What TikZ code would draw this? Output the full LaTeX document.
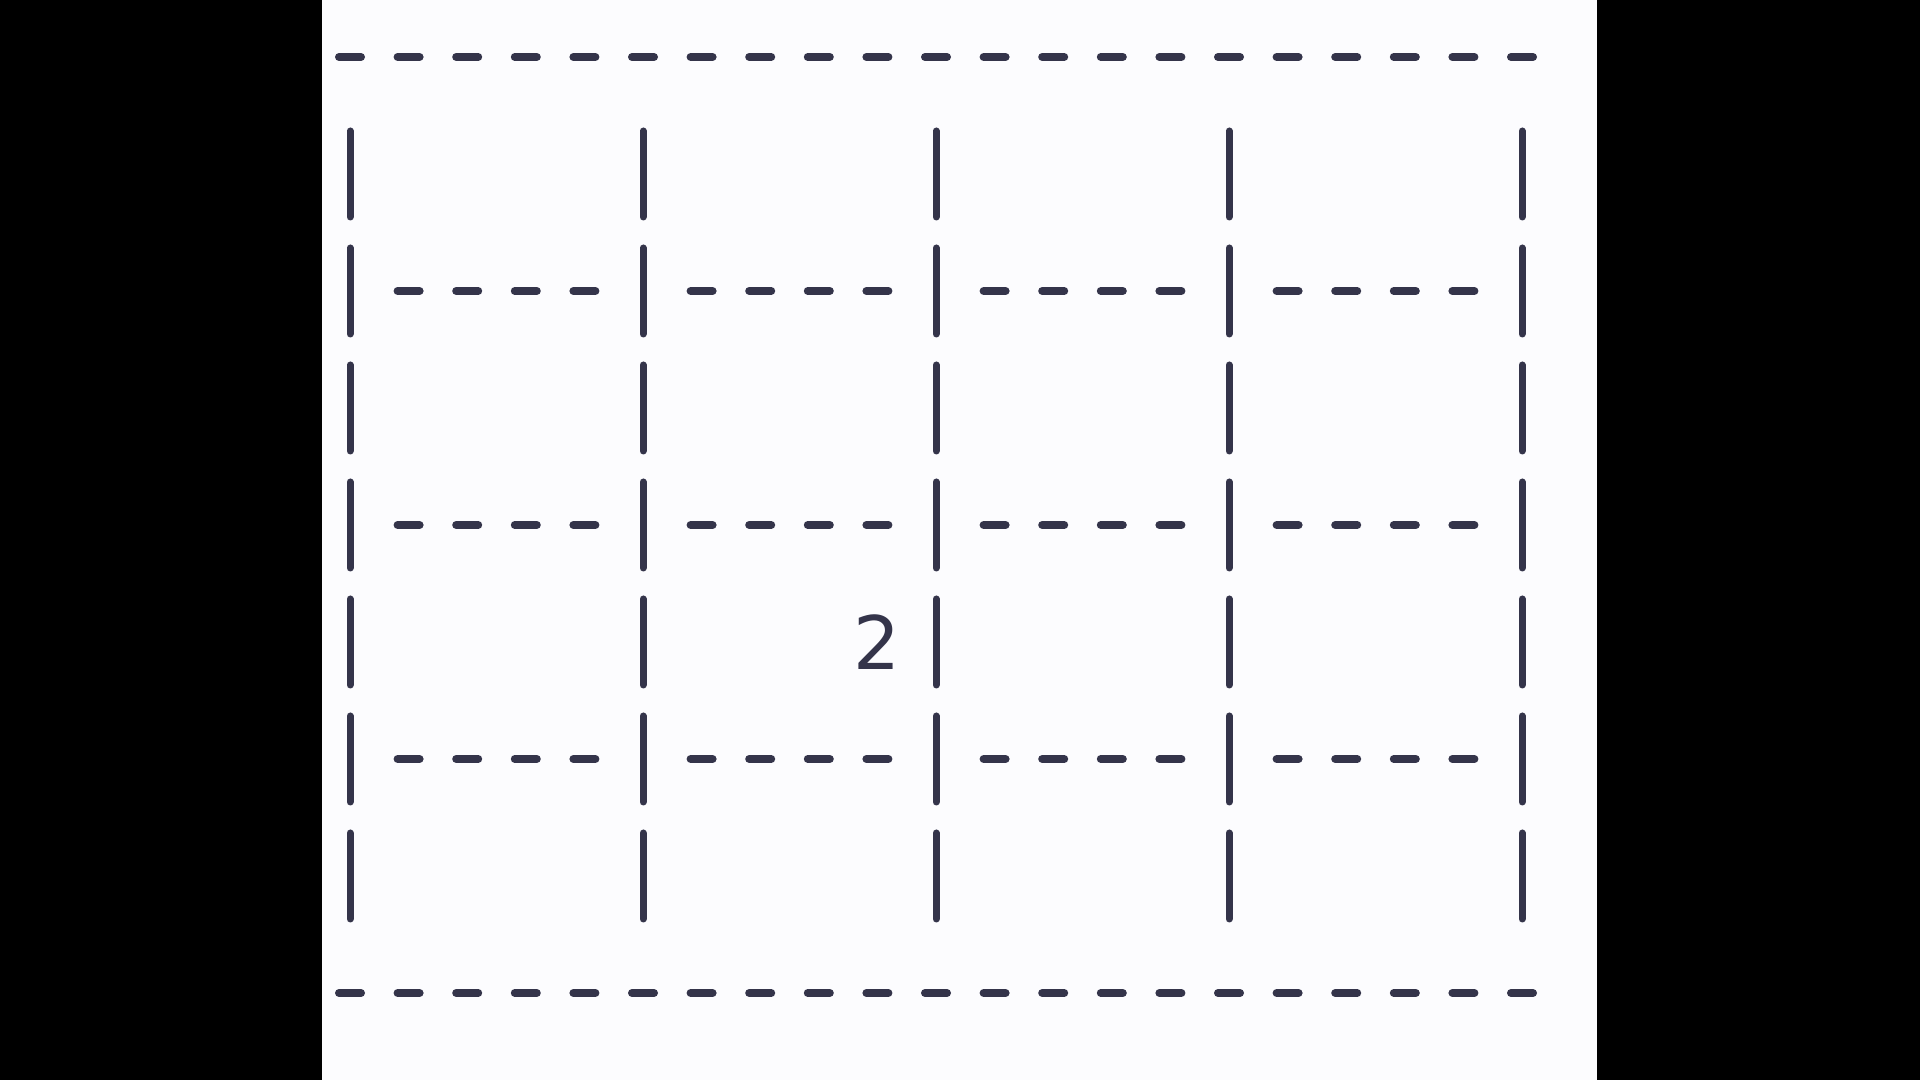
\documentclass[tikz,border=0pt]{standalone}
\usepackage{fontspec}
\usepackage{tikz}
\usetikzlibrary{positioning}
\newfontfamily\digitfont{DejaVu Sans}
\definecolor{tinta}{RGB}{52, 52, 74}
\definecolor{papel}{RGB}{252, 252, 254}
\tikzset{
    marco/.style={fill=black},
    hoja/.style={fill=papel},
    raya/.style={tinta, line width=0.08cm, line cap=round},
    barra/.style={tinta, line width=0.07cm, line cap=round},
    cifra/.style={text=tinta, font=\digitfont\fontsize{21}{25}\selectfont, inner sep=0pt},
}

\begin{document}
\begin{tikzpicture}
        \useasboundingbox (0,0) rectangle (19.2,10.8);
        \fill[marco] (0,0) rectangle (19.2,10.8);
        \fill[hoja] (3.22,0) rectangle (15.97,10.8);

        % top and bottom rows of dashes
        \foreach \j in {0,...,20}{
            \draw[raya] ({3.50+0.586*\j-0.11},10.23) -- ++(0.22,0);
            \draw[raya] ({3.50+0.586*\j-0.11},0.87) -- ++(0.22,0);
        }

        % bars
        \foreach \k in {1,...,7}{
            \foreach \c in {0,...,4}{
                \draw[barra] ({3.50+2.93*\c},{10.23-1.17*\k+0.43}) -- ++(0,-0.86);
            }
        }

        % dashes between the bars
        \foreach \k in {2,4,6}{
            \foreach \c in {0,...,3}{
                \foreach \i in {1,...,4}{
                    \draw[raya] ({3.50+2.93*\c+0.586*\i-0.11},{10.23-1.17*\k}) -- ++(0.22,0);
                }
            }
        }

        \node[cifra] (dos) at (8.77,4.38) {2};
\end{tikzpicture}
\end{document}
